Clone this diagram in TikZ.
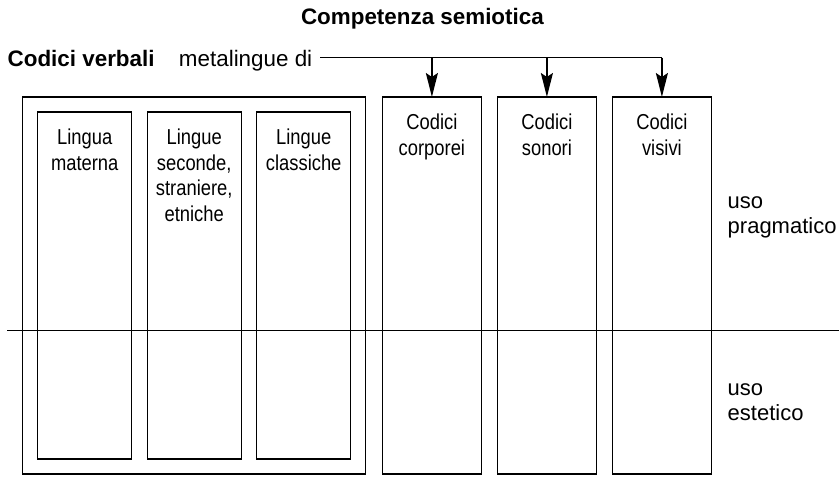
\documentclass[tikz,border=0pt]{standalone}
\usepackage{fontspec}
\setmainfont{Liberation Sans}
\newfontfamily\narrowsans[FakeStretch=0.85]{Liberation Sans}
\usetikzlibrary{arrows.meta,positioning,fit}

\begin{document}
\begin{tikzpicture}[
 x=0.5pt, y=-0.5pt, node distance=7.75pt, >={Stealth[length=12pt,width=6pt,inset=2pt]},
 font=\fontsize{11.2}{12.5}\selectfont, line width=0.7pt,
 cell/.style={draw, minimum width=47pt, minimum height=173.5pt, inner sep=0pt, outer sep=0pt},
 code/.style={cell, minimum width=49.5pt, minimum height=188.5pt},
 tag/.style={align=center, inner sep=0pt, font=\narrowsans\fontsize{10.8}{12.8}\selectfont},
 side/.style={align=left, inner sep=0pt, anchor=west, font=\fontsize{11}{12.5}\selectfont}]
\useasboundingbox (0,0) rectangle (839,503);
% verbal codes
\node[cell, anchor=north west] (mat) at (37.7,112) {};
\node[cell, right=of mat] (sec) {};
\node[cell, right=of sec] (cla) {};
\node[draw, fit=(mat)(sec)(cla), inner sep=7.5pt] (verb) {};
\node[tag, below=8.2pt of mat.north] (matT) {Lingua\\materna};
\node[tag, below=8.2pt of sec.north] (secT) {Lingue\\seconde,\\straniere,\\etniche};
\node[tag, below=8.2pt of cla.north] (claT) {Lingue\\classiche};
% other codes
\node[code, right=8pt of verb] (cor) {};
\node[code, right=8pt of cor] (son) {};
\node[code, right=8pt of son] (vis) {};
\node[tag, below=8.2pt of cor.north] (corT) {Codici\\corporei};
\node[tag, below=8.2pt of son.north] (sonT) {Codici\\sonori};
\node[tag, below=8.2pt of vis.north] (visT) {Codici\\visivi};
% headings
\node[inner sep=0pt] (title) at (422.5,18.4) {\textbf{Competenza semiotica}};
\node[anchor=base west, inner sep=0pt] (verbH) at (7,66.7) {\textbf{Codici verbali}};
\node[inner sep=0pt, base right=11.5pt of verbH] (meta) {metalingue di};
\coordinate (busL) at (320,57.7);
\draw (busL) -- (vis.north |- busL);
\foreach \b in {cor,son,vis}
  \draw[->] (\b.north |- busL) -- (\b.north);
% uses
\coordinate (cutL) at (7,330.7);
\coordinate (cutR) at (839,330.7);
\draw (cutL) -- (cutR);
\node[side] (prag) at (727,217) {uso\\pragmatico};
\node[side] (est) at (727,402) {uso\\estetico};
\end{tikzpicture}
\end{document}
